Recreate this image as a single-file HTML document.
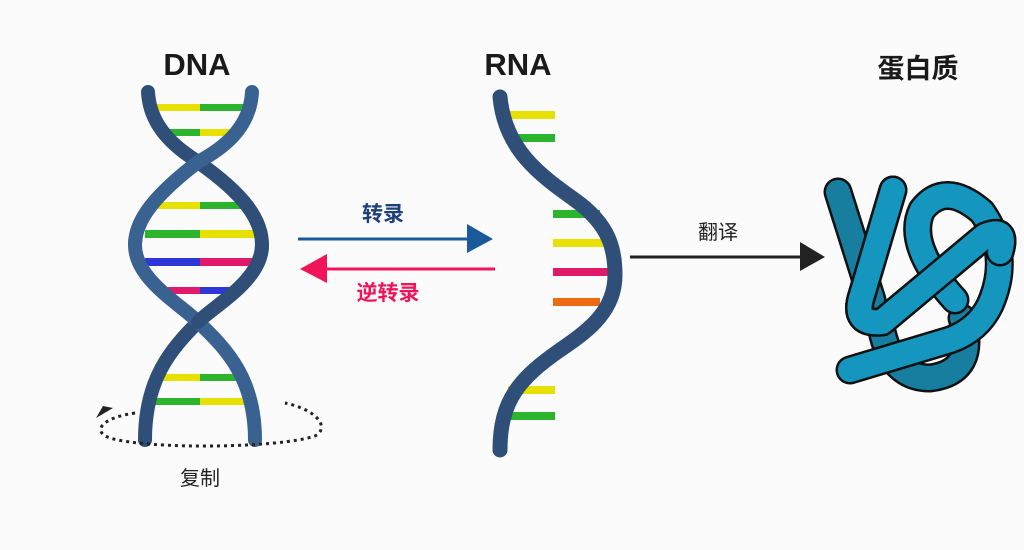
<!DOCTYPE html>
<html><head><meta charset="utf-8"><style>
html,body{margin:0;padding:0;background:#fbfbfc;width:1024px;height:550px;overflow:hidden}
svg{display:block}
text{font-family:"Liberation Sans","Noto Sans CJK SC",sans-serif}
</style></head><body>
<svg width="1024" height="550" viewBox="0 0 1024 550" xmlns="http://www.w3.org/2000/svg">
<rect width="1024" height="550" fill="#fbfbfc"/>
<text x="197" y="75" font-size="31" font-weight="bold" text-anchor="middle" fill="#1a1a1a">DNA</text>
<text x="518" y="75" font-size="31" font-weight="bold" text-anchor="middle" fill="#1a1a1a">RNA</text>
<text x="918" y="78" font-size="27" font-weight="bold" text-anchor="middle" fill="#1a1a1a">蛋白质</text>

<!-- DNA rungs -->
<g>
<rect x="155" y="104" width="45" height="7" fill="#e8e000"/><rect x="200" y="104" width="45" height="7" fill="#2cb52c"/>
<rect x="160" y="129" width="40" height="7" fill="#2cb52c"/><rect x="200" y="129" width="38" height="7" fill="#e8e000"/>
<rect x="150" y="202" width="50" height="7" fill="#e8e000"/><rect x="200" y="202" width="45" height="7" fill="#2cb52c"/>
<rect x="145" y="230" width="55" height="8" fill="#2cb52c"/><rect x="200" y="230" width="55" height="8" fill="#e8e000"/>
<rect x="145" y="258" width="55" height="8" fill="#2d38d8"/><rect x="200" y="258" width="55" height="8" fill="#e0196a"/>
<rect x="160" y="287" width="40" height="7" fill="#e0196a"/><rect x="200" y="287" width="40" height="7" fill="#2d38d8"/>
<rect x="158" y="374" width="42" height="7" fill="#e8e000"/><rect x="200" y="374" width="38" height="7" fill="#2cb52c"/>
<rect x="155" y="398" width="45" height="7" fill="#2cb52c"/><rect x="200" y="398" width="45" height="7" fill="#e8e000"/>
</g>
<!-- DNA strands -->
<g fill="none" stroke-linecap="round">
<path d="M148,92 C150,130 180,150 198,162 C245,195 262,220 262,245 C262,280 215,305 198,322 C170,350 145,380 145,440" stroke="#2f4f78" stroke-width="14"/>
<path d="M252,92 C250,130 220,150 198,162 C155,195 135,220 135,245 C135,280 182,305 198,322 C228,350 255,380 255,440" stroke="#3a6290" stroke-width="14"/>
<path d="M198,162 C155,195 135,220 135,245" stroke="#3a6290" stroke-width="14"/>
<path d="M262,245 C262,280 215,305 198,322" stroke="#2f4f78" stroke-width="14"/>
</g>

<!-- replication ellipse -->
<path d="M135,413 C100,418 92,432 110,438 C150,450 280,448 315,436 C330,428 318,410 285,403" fill="none" stroke="#222" stroke-width="3" stroke-dasharray="3,4"/>
<path d="M96,418 L113,408 L103,406 Z" fill="#222"/>
<text x="200" y="485" font-size="20" text-anchor="middle" fill="#222">复制</text>

<!-- arrows -->
<line x1="298" y1="239" x2="470" y2="239" stroke="#1a5a9a" stroke-width="3"/>
<path d="M467,224 L493,239 L467,253 Z" fill="#1a5a9a"/>
<text x="383" y="221" font-size="21" font-weight="bold" text-anchor="middle" fill="#1f3f7a">转录</text>
<line x1="325" y1="269" x2="495" y2="269" stroke="#f0145a" stroke-width="3"/>
<path d="M327,254 L300,269 L327,283 Z" fill="#f0145a"/>
<text x="388" y="300" font-size="21" font-weight="bold" text-anchor="middle" fill="#f0145a">逆转录</text>
<line x1="630" y1="257" x2="802" y2="257" stroke="#222" stroke-width="3"/>
<path d="M800,242 L825,257 L800,271 Z" fill="#222"/>
<text x="718" y="239" font-size="20" text-anchor="middle" fill="#222">翻译</text>

<!-- RNA rungs -->
<rect x="508" y="111" width="47" height="8" fill="#e8e000"/>
<rect x="508" y="134" width="47" height="8" fill="#2cb52c"/>
<rect x="553" y="210" width="47" height="8" fill="#2cb52c"/>
<rect x="553" y="239" width="57" height="8" fill="#e8e000"/>
<rect x="553" y="268" width="57" height="8" fill="#e0196a"/>
<rect x="553" y="298" width="47" height="8" fill="#ee6a10"/>
<rect x="508" y="386" width="47" height="8" fill="#e8e000"/>
<rect x="508" y="412" width="47" height="8" fill="#2cb52c"/>
<!-- RNA strand -->
<path d="M500,97 C505,150 540,175 575,200 C610,225 615,250 615,275 C615,310 590,330 560,350 C520,378 500,400 500,450" fill="none" stroke="#2f4f78" stroke-width="15" stroke-linecap="round"/>

<!-- protein -->
<g fill="none" stroke-linecap="round" stroke-linejoin="round">
<g stroke="#111" stroke-width="29">
<path d="M838,192 L872,300"/>
<path d="M880,320 Q888,378 930,378 Q978,372 962,318"/>
</g>
<g stroke="#177ea0" stroke-width="24">
<path d="M838,192 L872,300"/>
<path d="M880,320 Q888,378 930,378 Q978,372 962,318"/>
</g>
<g stroke="#111" stroke-width="29">
<path d="M893,190 L862,295 Q852,325 882,322 L985,236 Q1008,226 1000,252"/>
<path d="M955,300 Q905,245 922,210 Q945,180 982,212 Q1012,255 990,305 Q978,330 950,340 L850,370"/>
</g>
<g stroke="#1496bf" stroke-width="24">
<path d="M955,300 Q905,245 922,210 Q945,180 982,212 Q1012,255 990,305 Q978,330 950,340 L850,370"/>
</g>
<g stroke="#111" stroke-width="29">
<path d="M893,190 L862,295 Q852,325 882,322 L985,236 Q1008,226 1000,252"/>
</g>
<g stroke="#1496bf" stroke-width="24">
<path d="M893,190 L862,295 Q852,325 882,322 L985,236 Q1008,226 1000,252"/>
</g>
</g>
</svg>
</body></html>
